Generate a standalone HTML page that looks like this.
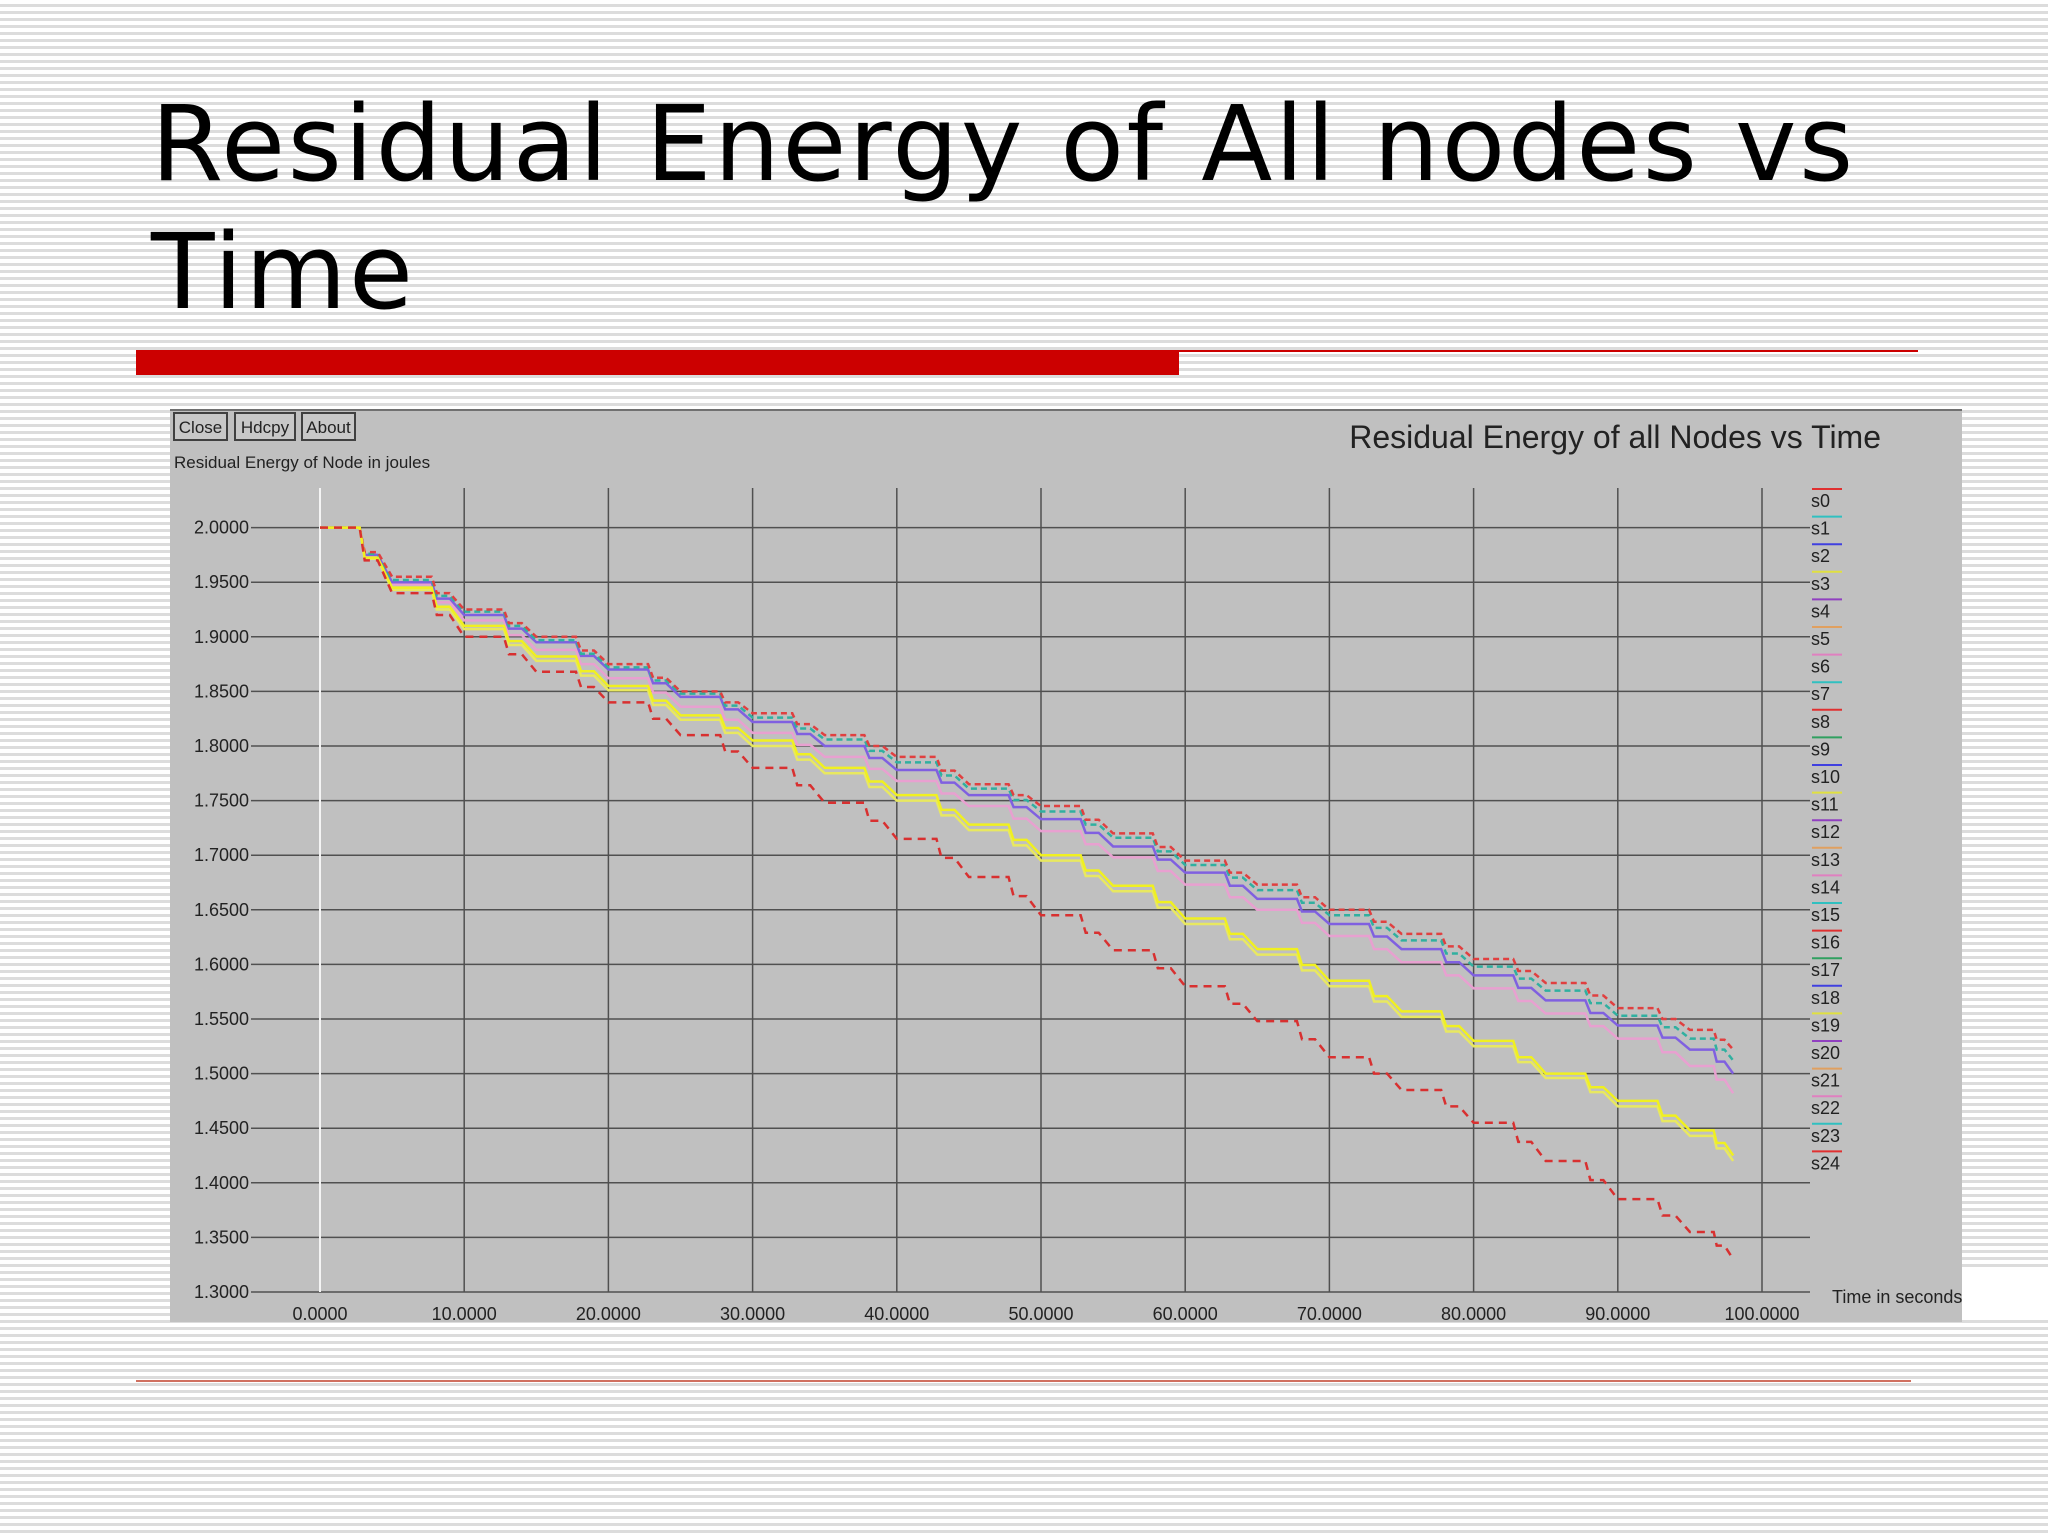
<!DOCTYPE html>
<html><head><meta charset="utf-8"><style>
html,body{margin:0;padding:0}
body{width:2048px;height:1536px;overflow:hidden;position:relative;font-family:"Liberation Sans",sans-serif;
background:repeating-linear-gradient(to bottom,#ffffff 0px,#ffffff 4px,#dcdcdc 4px,#dcdcdc 7px);}
#title{position:absolute;left:151px;top:80px;font-family:"DejaVu Sans","Liberation Sans",sans-serif;font-size:104px;line-height:128px;letter-spacing:2.5px;color:#000;margin:0;font-weight:normal}
svg{position:absolute;left:0;top:0}
</style></head><body>
<h1 id="title">Residual Energy of All nodes vs<br>Time</h1>
<svg id="chart" width="2048" height="1536"></svg>
<script>
const times=[0,5,10,15,20,25,30,35,40,45,50,55,60,65,70,75,80,85,90,95,98];
const sRedTop=[2.0,1.955,1.925,1.90,1.875,1.85,1.83,1.81,1.79,1.765,1.745,1.72,1.695,1.673,1.65,1.628,1.605,1.583,1.56,1.54,1.522];
const sGreen=[2.0,1.952,1.923,1.897,1.872,1.848,1.826,1.806,1.785,1.761,1.740,1.716,1.691,1.668,1.645,1.622,1.598,1.576,1.553,1.532,1.512];
const sBlue=[2.0,1.95,1.92,1.895,1.87,1.845,1.822,1.80,1.778,1.755,1.733,1.708,1.684,1.660,1.637,1.614,1.590,1.567,1.544,1.522,1.500];
const sPink=[2.0,1.948,1.915,1.888,1.862,1.836,1.812,1.79,1.768,1.745,1.722,1.698,1.673,1.650,1.626,1.602,1.578,1.555,1.532,1.507,1.482];
const sYellow=[2.0,1.945,1.91,1.882,1.855,1.828,1.805,1.78,1.755,1.728,1.70,1.672,1.642,1.614,1.585,1.557,1.53,1.50,1.475,1.448,1.425];
const sYellow2=[2.0,1.943,1.907,1.878,1.851,1.824,1.80,1.775,1.75,1.723,1.695,1.667,1.637,1.609,1.58,1.552,1.525,1.496,1.47,1.443,1.42];
const sRedLow=[2.0,1.94,1.90,1.868,1.84,1.81,1.78,1.748,1.715,1.68,1.645,1.613,1.58,1.548,1.515,1.485,1.455,1.42,1.385,1.355,1.33];
const yTicks=[2.0,1.95,1.9,1.85,1.8,1.75,1.7,1.65,1.6,1.55,1.5,1.45,1.4,1.35,1.3];
const xTicks=[0,10,20,30,40,50,60,70,80,90,100];
const legendLabels=["s0","s1","s2","s3","s4","s5","s6","s7","s8","s9","s10","s11","s12","s13","s14","s15","s16","s17","s18","s19","s20","s21","s22","s23","s24"];
const legendColors=["#e03030","#30c0c0","#4040e0","#e0e040","#9040c0","#e0a060","#e080c0","#30c0c0","#e03030","#30a060","#4040e0","#e0e040","#9040c0","#e0a060","#e080c0","#30c0c0","#e03030","#30a060","#4040e0","#e0e040","#9040c0","#e0a060","#e080c0","#30c0c0","#e03030"];
const NS="http://www.w3.org/2000/svg";
const svg=document.getElementById('chart');
const X=t=>320+t*14.42;
const Y=v=>527.6+(2.0-v)*1092;
function mk(tag,attrs,parent){const e=document.createElementNS(NS,tag);for(const k in attrs)e.setAttribute(k,attrs[k]);(parent||svg).appendChild(e);return e;}
let e;
e=mk('rect',{x:136,y:350,width:1043,height:25,fill:'#cc0000'});


e=mk('line',{x1:1179,y1:351,x2:1918,y2:351,stroke:'#cc0000','stroke-width':2});


e=mk('line',{x1:136,y1:1381,x2:1911,y2:1381,stroke:'#d07060','stroke-width':2});


e=mk('rect',{x:170,y:409,width:1792,height:913,fill:'#c0c0c0'});


e=mk('line',{x1:170,y1:410,x2:1962,y2:410,stroke:'#707070','stroke-width':2});


[["Close",174,53,'close-button'],["Hdcpy",235,60,'hdcpy-button'],["About",302,53,'about-button']].forEach(b=>{
 const g=mk('g',{});
 
 
 mk('rect',{x:b[1],y:413,width:b[2],height:27,fill:'#c8c8c8',stroke:'#404040','stroke-width':2},g);
 const t=mk('text',{x:b[1]+b[2]/2,y:433,'text-anchor':'middle','font-size':17,fill:'#222'},g);t.textContent=b[0];
});
e=mk('text',{x:174,y:468,'font-size':17,fill:'#222'});e.textContent='Residual Energy of Node in joules';


e=mk('text',{x:1881,y:448,'font-size':32,fill:'#222','text-anchor':'end'});e.textContent='Residual Energy of all Nodes vs Time';


e=mk('text',{x:1832,y:1303,'font-size':18,fill:'#222'});e.textContent='Time in seconds';


yTicks.forEach(v=>{
 e=mk('line',{x1:251,y1:Y(v),x2:1810,y2:Y(v),stroke:'#505050','stroke-width':1.5});
 
 
 e=mk('text',{x:249,y:Y(v)+6,'font-size':18,fill:'#222','text-anchor':'end'});e.textContent=v.toFixed(4);
 
 
});
xTicks.forEach(t=>{
 e=mk('line',{x1:X(t),y1:488,x2:X(t),y2:Y(1.3),stroke:'#505050','stroke-width':1.5});
 
 
 e=mk('text',{x:X(t),y:1320,'font-size':18,fill:'#222','text-anchor':'middle'});e.textContent=t.toFixed(4);
 
 
});
e=mk('line',{x1:X(0),y1:488,x2:X(0),y2:Y(1.3),stroke:'#f4f4f4','stroke-width':2});


function stair(vals){let d='M'+X(times[0])+' '+Y(vals[0]);
 for(let i=1;i<times.length;i++){const dt=times[i]-times[i-1];
  d+=' L'+X(times[i-1]+dt*0.55)+' '+Y(vals[i-1])+' L'+X(times[i-1]+dt*0.62)+' '+Y((vals[i-1]+vals[i])/2)+' L'+X(times[i-1]+dt*0.8)+' '+Y((vals[i-1]+vals[i])/2)+' L'+X(times[i])+' '+Y(vals[i]);}
 return d;}
[[sPink,'#e8a0d0','','series-pink'],[sBlue,'#8060e0','','series-blue'],[sGreen,'#30b0a0','6 4','series-green'],[sRedTop,'#e04040','6 4','series-red-top'],[sYellow2,'#e8e860','','series-yellow-2'],[sYellow,'#f0f020','','series-yellow'],[sRedLow,'#d83030','8 6','series-red-low']].forEach(s=>{
 const p=mk('path',{d:stair(s[0]),fill:'none',stroke:s[1],'stroke-width':2.5,'stroke-dasharray':s[2]});
 
 
});
legendLabels.forEach((l,i)=>{
 const y=501+i*27.6;
 const g=mk('g',{});
 
 
 mk('line',{x1:1812,y1:y-12,x2:1842,y2:y-12,stroke:legendColors[i],'stroke-width':2},g);
 const t=mk('text',{x:1811,y:y+6,'font-size':18,fill:'#222'},g);t.textContent=l;
});
e=mk('rect',{x:1962,y:1270,width:86,height:50,fill:'#ffffff'});


</script>
</body></html>
